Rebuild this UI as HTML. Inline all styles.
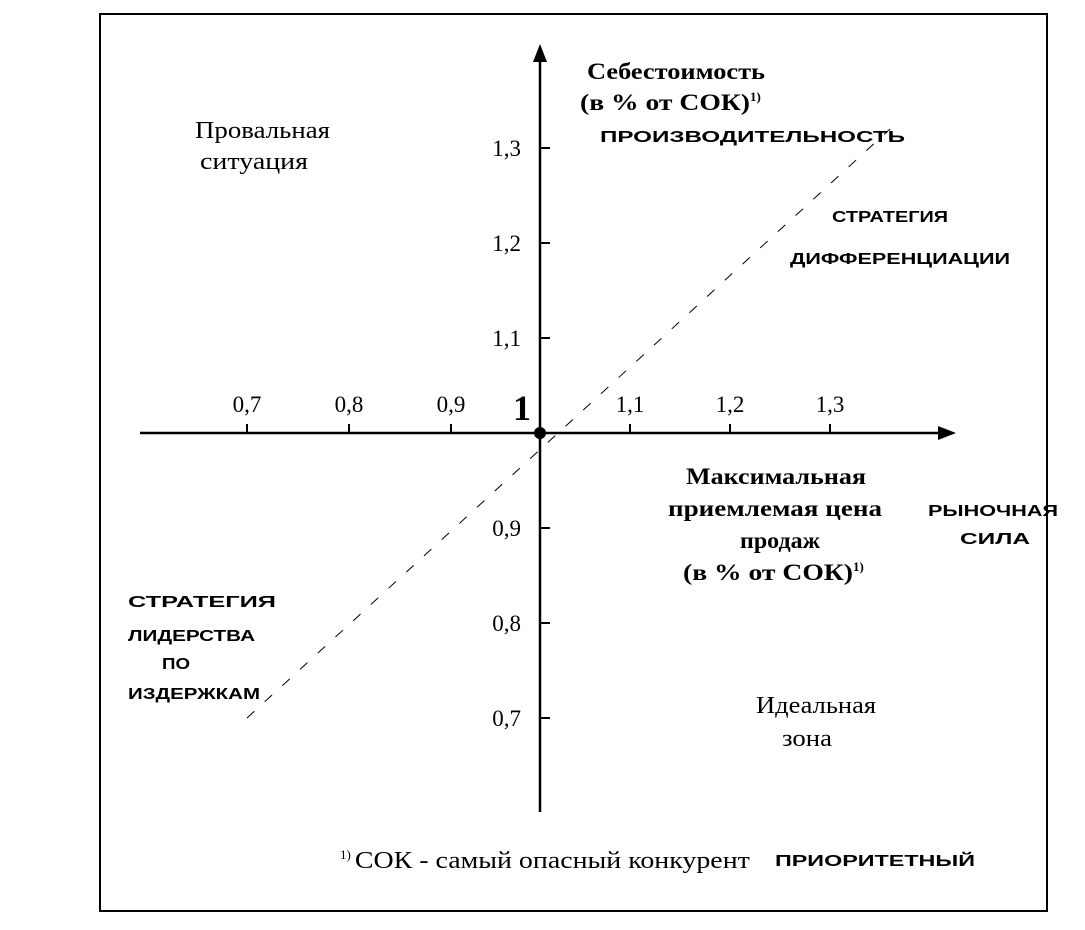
<!DOCTYPE html>
<html><head><meta charset="utf-8"><style>
body{margin:0;background:#fff;}
svg text{font-family:"Liberation Serif",serif;fill:#000;}
.hw{font-family:"Liberation Sans",sans-serif;font-weight:bold;font-size:16px;}
</style></head><body>
<svg width="1085" height="925" viewBox="0 0 1085 925">
<rect x="100" y="14" width="947" height="897" fill="none" stroke="#000" stroke-width="2"/>
<g id="axes"></g>
<text x="587" y="79" font-size="23" font-weight="bold" textLength="178" lengthAdjust="spacingAndGlyphs">Себестоимость</text>
<text x="580" y="110" font-size="23" font-weight="bold"><tspan textLength="170" lengthAdjust="spacingAndGlyphs">(в % от СОК)</tspan><tspan font-size="13" dy="-9">1)</tspan></text>
<text x="686" y="484" font-size="23" font-weight="bold" textLength="180" lengthAdjust="spacingAndGlyphs">Максимальная</text>
<text x="668" y="516" font-size="23" font-weight="bold" textLength="214" lengthAdjust="spacingAndGlyphs">приемлемая цена</text>
<text x="740" y="548" font-size="23" font-weight="bold" textLength="80" lengthAdjust="spacingAndGlyphs">продаж</text>
<text x="683" y="580" font-size="23" font-weight="bold"><tspan textLength="170" lengthAdjust="spacingAndGlyphs">(в % от СОК)</tspan><tspan font-size="13" dy="-9">1)</tspan></text>
<text x="195" y="138" font-size="24" textLength="135" lengthAdjust="spacingAndGlyphs">Провальная</text>
<text x="200" y="169" font-size="24" textLength="108" lengthAdjust="spacingAndGlyphs">ситуация</text>
<text x="756" y="713" font-size="24" textLength="120" lengthAdjust="spacingAndGlyphs">Идеальная</text>
<text x="782" y="746" font-size="24" textLength="50" lengthAdjust="spacingAndGlyphs">зона</text>
<text x="522" y="420" font-size="36" font-weight="bold" text-anchor="middle">1</text>
<text x="340" y="868" font-size="24"><tspan font-size="13" dy="-9">1)</tspan><tspan dy="9" dx="4" textLength="395" lengthAdjust="spacingAndGlyphs">СОК - самый опасный конкурент</tspan></text>
<text x="775" y="866" class="hw" textLength="200" lengthAdjust="spacingAndGlyphs">ПРИОРИТЕТНЫЙ</text>
<text x="600" y="142" class="hw" textLength="305" lengthAdjust="spacingAndGlyphs">ПРОИЗВОДИТЕЛЬНОСТЬ</text>
<text x="832" y="222" class="hw" textLength="116" lengthAdjust="spacingAndGlyphs">СТРАТЕГИЯ</text>
<text x="790" y="264" class="hw" textLength="220" lengthAdjust="spacingAndGlyphs">ДИФФЕРЕНЦИАЦИИ</text>
<text x="928" y="516" class="hw" textLength="130" lengthAdjust="spacingAndGlyphs">РЫНОЧНАЯ</text>
<text x="960" y="544" class="hw" textLength="70" lengthAdjust="spacingAndGlyphs">СИЛА</text>
<text x="128" y="607" class="hw" textLength="148" lengthAdjust="spacingAndGlyphs">СТРАТЕГИЯ</text>
<text x="128" y="641" class="hw" textLength="127" lengthAdjust="spacingAndGlyphs">ЛИДЕРСТВА</text>
<text x="162" y="669" class="hw" textLength="28" lengthAdjust="spacingAndGlyphs">ПО</text>
<text x="128" y="699" class="hw" textLength="132" lengthAdjust="spacingAndGlyphs">ИЗДЕРЖКАМ</text>
</svg>
<script>
const xTicks=[0.7,0.8,0.9,1.1,1.2,1.3];
const xTickLabels=["0,7","0,8","0,9","1,1","1,2","1,3"];
const yTicks=[1.3,1.2,1.1,0.9,0.8,0.7];
const yTickLabels=["1,3","1,2","1,1","0,9","0,8","0,7"];
const diagonal=[[0.7,0.7],[1.36,1.32]];
const origin=[1,1];
const NS="http://www.w3.org/2000/svg";
const X=v=>v===1?540:(v<1?451+(v-0.9)*1020:530+(v-1)*1000);
const Y=v=>433-(v-1)*950;
const g=document.getElementById('axes');
function mk(t,a){const e=document.createElementNS(NS,t);for(const k in a)e.setAttribute(k,a[k]);g.appendChild(e);return e;}
let e=mk('line',{x1:140,y1:433,x2:940,y2:433,stroke:'#000','stroke-width':2.5});


e=mk('polygon',{points:'956,433 938,426 938,440',fill:'#000'});


e=mk('line',{x1:540,y1:60,x2:540,y2:812,stroke:'#000','stroke-width':2.5});


e=mk('polygon',{points:'540,44 533,62 547,62',fill:'#000'});


xTicks.forEach((v,i)=>{
 let t=mk('line',{x1:X(v),y1:424,x2:X(v),y2:433,stroke:'#000','stroke-width':2});
 
 
 let l=mk('text',{x:X(v),y:412,'font-size':23,'text-anchor':'middle'});l.textContent=xTickLabels[i];
 
 
});
yTicks.forEach((v,i)=>{
 let t=mk('line',{x1:540,y1:Y(v),x2:550,y2:Y(v),stroke:'#000','stroke-width':2});
 
 
 let l=mk('text',{x:521,y:Y(v)+8,'font-size':23,'text-anchor':'end'});l.textContent=yTickLabels[i];
 
 
});
e=mk('line',{x1:X(diagonal[0][0]),y1:Y(diagonal[0][1]),x2:X(diagonal[1][0]),y2:Y(diagonal[1][1]),stroke:'#000','stroke-width':1,'stroke-dasharray':'10,14'});


e=mk('circle',{cx:X(origin[0]),cy:Y(origin[1]),r:6,fill:'#000'});


</script>
</body></html>
